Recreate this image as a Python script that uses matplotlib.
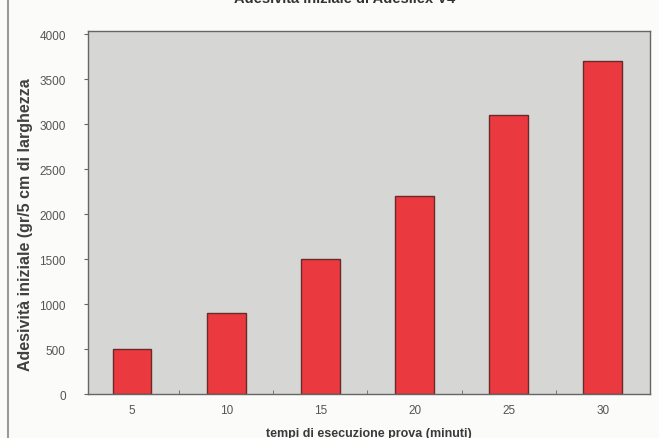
import numpy as np
import matplotlib
matplotlib.use('Agg')
import matplotlib.pyplot as plt
from matplotlib.lines import Line2D

# test duration (minutes) and initial tack values
tempi = ['5', '10', '15', '20', '25', '30']
adesivita = [500, 900, 1500, 2200, 3100, 3700]
yticks = [0, 500, 1000, 1500, 2000, 2500, 3000, 3500, 4000]

plt.rcParams['font.family'] = ['Liberation Sans', 'DejaVu Sans']

fig = plt.figure(figsize=(6.59, 4.39), dpi=100)
fig.patch.set_facecolor('#fbfbf9')
ax = fig.add_axes([0.1335, 0.1002, 0.8525, 0.8268])
ax.set_facecolor('#d6d6d4')

x = np.arange(len(tempi))
ax.bar(x, adesivita, width=0.41, color='#ea3a3f', edgecolor='#6a2a2a', linewidth=1.0)

ax.set_xlim(-0.47, len(tempi) - 0.5)
ax.set_ylim(0, 4035)
ax.set_xticks(x)
ax.set_xticklabels(tempi, fontsize=8.5, color='#555555')
ax.set_xticks(x[:-1] + 0.5, minor=True)
ax.tick_params(axis='x', which='major', length=0, pad=7)
ax.tick_params(axis='x', which='minor', length=3, direction='in', color='#666666')
ax.set_yticks(yticks)
ax.set_yticklabels([str(v) for v in yticks], fontsize=8.5, color='#555555')
ax.tick_params(axis='y', length=3, direction='out', color='#666666', pad=13)

for s in ax.spines.values():
    s.set_color('#666666')
    s.set_linewidth(1.0)

ax.set_xlabel('tempi di esecuzione prova (minuti)', fontsize=9, fontweight='bold',
              color='#3a3a3a', labelpad=8)
ax.set_ylabel('Adesività iniziale (gr/5 cm di larghezza', fontsize=11.5, fontweight='bold',
              color='#404040')
ax.yaxis.set_label_coords(-0.097, 0.47)

# title sits at the very top edge
fig.text(0.523, 1.003, 'Adesività iniziale di Adesilex V4', ha='center', va='center',
         fontsize=10.5, fontweight='bold', color='#333333')

# frame line on the left side of the page
fig.add_artist(Line2D([0.012, 0.012], [0, 1], transform=fig.transFigure,
                      color='#9a9a9a', linewidth=1.5))

fig.savefig('out.png', dpi=100)
plt.close()
